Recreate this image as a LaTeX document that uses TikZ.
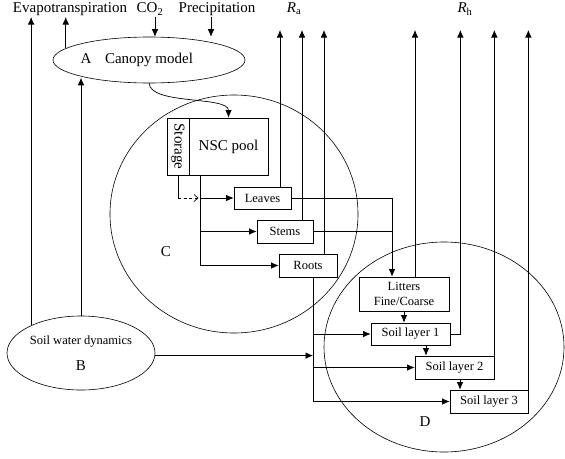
\documentclass[tikz,border=0pt]{standalone}
\usepackage{fontspec}
\setmainfont{Liberation Serif}
\usetikzlibrary{arrows.meta,shapes.geometric}
\begin{document}
\begin{tikzpicture}[x=1pt,y=-1pt,
  big/.style={font=\fontsize{15}{17}\selectfont},
  small/.style={font=\fontsize{12.5}{14.5}\selectfont},
  box/.style={draw,line width=0.7pt,inner sep=0pt,fill=white,small},
  oval/.style={draw,ellipse,line width=0.6pt,inner sep=0pt},
  lbl/.style={inner sep=0pt},
  ln/.style={line width=0.7pt},
  arr/.style={line width=0.7pt,-{Latex[length=7.5pt,width=6.5pt]}},
]
\useasboundingbox (0,0) rectangle (565,458);

% large ellipses
\node[oval,minimum width=248,minimum height=238] (C) at (234,214) {};
\node[oval,minimum width=240,minimum height=210] (D) at (444,347) {};
\node[oval,big,minimum width=192,minimum height=46] (canopy) at (149,60) {Canopy model};
\node[oval,minimum width=148,minimum height=74] (B) at (81,353) {};

% labels
\node[big,lbl] (Albl) at (86,59) {A};
\node[small,lbl] (Btext) at (81,342) {Soil water dynamics};
\node[big,lbl] (Blbl) at (81,366) {B};
\node[big,lbl] (Clbl) at (166,252) {C};
\node[big,lbl] (Dlbl) at (425,422) {D};

\node[big,lbl] (evap) at (70,9) {Evapotranspiration};
\node[big,lbl] (co2) at (150,9) {CO\textsubscript{2}};
\node[big,lbl] (prec) at (217,9) {Precipitation};
\node[big,lbl] (ra) at (294,9) {\textit{R}\textsubscript{a}};
\node[big,lbl] (rh) at (465,9) {\textit{R}\textsubscript{h}};

% boxes
\node[box,minimum width=22,minimum height=57] (storage) at (178,146.5) {};
\node[big,lbl,rotate=-90] (stortext) at (storage.center) {Storage};
\node[box,big,minimum width=79,minimum height=57] (nsc) at (228.5,146.5) {NSC pool};
\node[box,minimum width=57,minimum height=22] (leaves) at (262.5,198) {Leaves};
\node[box,minimum width=56,minimum height=23] (stems) at (285,231.5) {Stems};
\node[box,minimum width=58,minimum height=23] (roots) at (308,265.5) {Roots};
\node[box,align=center,minimum width=90,minimum height=34] (litters) at (404,294) {Litters\\Fine/Coarse};
\node[box,minimum width=79,minimum height=22] (soil1) at (410.5,334) {Soil layer 1};
\node[box,minimum width=79,minimum height=23] (soil2) at (454.5,367.5) {Soil layer 2};
\node[box,minimum width=78,minimum height=23] (soil3) at (489,401.5) {Soil layer 3};

% helper coordinates
\coordinate (evtop) at (31,17);
\coordinate (tp) at (0,30);
\coordinate (co2s) at (155,17);
\coordinate (precs) at (211,17);
\coordinate (trunk) at ([xshift=-28.5pt]nsc.south);
\coordinate (ltx) at ([xshift=-12pt]litters.north);
\coordinate (rt) at ([xshift=5pt]roots.south);
\coordinate (ra1) at ([xshift=17.5pt]leaves.north);
\coordinate (ra2) at ([xshift=17pt]stems.north);
\coordinate (ra3) at ([xshift=16pt]roots.north);
\coordinate (rh1) at ([xshift=11pt]litters.north);
\coordinate (rh2) at ([xshift=10pt]soil1.east);
\coordinate (s12) at ([xshift=15.5pt]soil1.south);
\coordinate (s23) at ([xshift=5.5pt]soil2.south);

% evapotranspiration, inputs
\draw[arr] (B.151.6) -- (B.151.6 |- evtop);
\draw[arr] (canopy.172.6) -- (canopy.172.6 |- evtop);
\draw[arr] (co2s) -- (co2s |- canopy.north);
\draw[arr] (precs) -- (precs |- canopy.north);
\draw[arr] (B.north) -- (B.north |- canopy.196);

% canopy to NSC
\draw[arr] (canopy.south) .. controls +(2,22) and +(0,-22) .. (nsc.north);

% storage
\draw[ln] (storage.south) -- (storage.south |- leaves.west);
\draw[ln,dash pattern=on 3pt off 2.5pt,shorten >=1.5pt,-{Straight Barb[length=4pt,width=7pt]}] (storage.south |- leaves.west) -- (trunk |- leaves.west);

% NSC allocation
\draw[arr] (trunk) |- (roots.west);
\draw[arr] (trunk |- leaves.west) -- (leaves.west);
\draw[arr] (trunk |- stems.west) -- (stems.west);

% autotrophic respiration
\draw[arr] (ra1) -- (ra1 |- tp);
\draw[arr] (ra2) -- (ra2 |- tp);
\draw[arr] (ra3) -- (ra3 |- tp);

% litter input
\draw[ln] (leaves.east) -- (ltx |- leaves.east);
\draw[ln] (stems.east) -- (ltx |- stems.east);
\draw[arr] (ltx |- leaves.east) -- (ltx);

% heterotrophic respiration
\draw[arr] (rh1) -- (rh1 |- tp);
\draw[arr] (soil1.east) -- (rh2) -- (rh2 |- tp);
\draw[arr] (soil2.north east) -- (soil2.north east |- tp);
\draw[arr] (soil3.north east) -- (soil3.north east |- tp);

% soil chain
\draw[arr] (litters.south) -- (litters.south |- soil1.north);
\draw[arr] (s12) -- (s12 |- soil2.north);
\draw[arr] (s23) -- (s23 |- soil3.north);

% roots to soil layers
\draw[arr] (rt) |- (soil3.west);
\draw[arr] (rt |- soil1.west) -- (soil1.west);
\draw[arr] (rt |- soil2.west) -- (soil2.west);
\draw[arr] (B.-2.3) -- (rt |- B.-2.3);
\end{tikzpicture}
\end{document}
